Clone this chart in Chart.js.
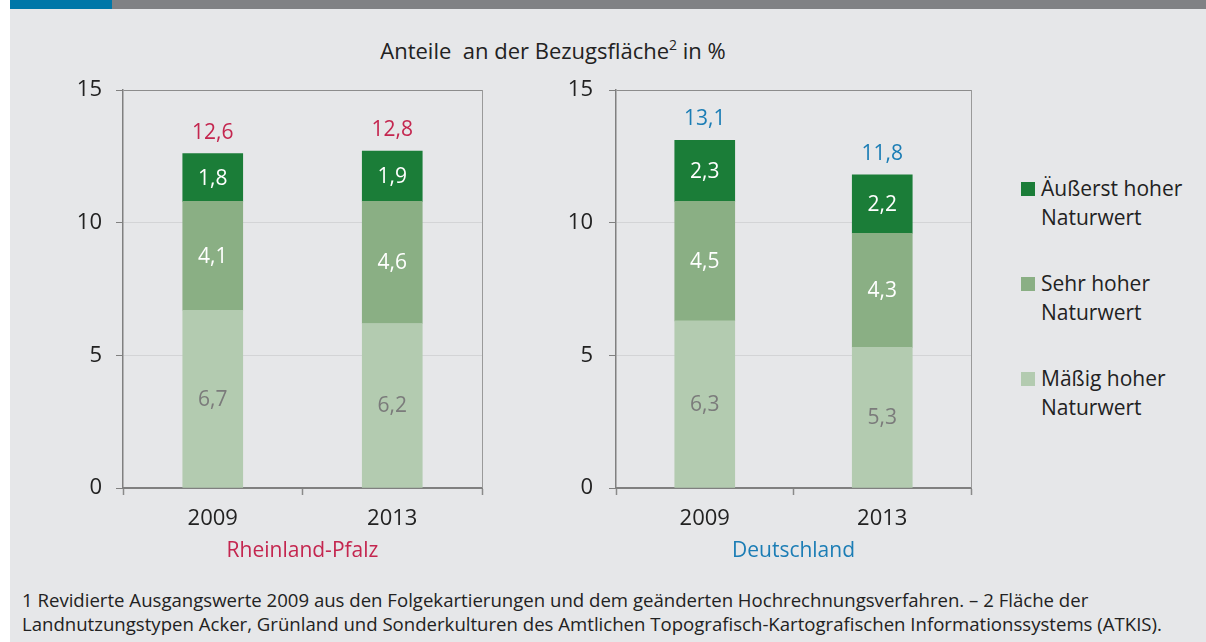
<!DOCTYPE html>
<html><head><meta charset="utf-8">
<script src="https://cdn.jsdelivr.net/npm/chart.js@4.4.1/dist/chart.umd.min.js"></script>
<style>
html,body{margin:0;padding:0;background:#fff;}
#wrap{position:relative;width:1206px;height:642px;overflow:hidden;font-family:'Open Sans',sans-serif;color:#222;}
#panel{position:absolute;left:10px;top:0;width:1196px;height:642px;background:#e6e7e9;}
#barBlue{position:absolute;left:10px;top:0;width:102px;height:9px;background:#0077a8;}
#barGray{position:absolute;left:112px;top:0;width:1094px;height:9px;background:#808184;}
#title{position:absolute;left:303px;width:500px;top:35px;text-align:center;font-size:22px;line-height:30px;white-space:pre;}
#title sup{font-size:14px;line-height:0;position:relative;top:-1px;}
canvas{position:absolute;}
#legend{position:absolute;left:1021px;top:0;}
.lg{position:absolute;left:0;width:190px;font-size:21px;line-height:28.5px;}
.lg .sw{position:absolute;left:0;top:8px;width:14px;height:14px;}
.lg .tx{position:absolute;left:20px;top:0;white-space:pre;}
#foot{position:absolute;left:22px;top:588px;font-size:18.6px;line-height:23.5px;color:#222;white-space:pre;}
</style></head>
<body><div id="wrap">
<div id="panel"></div><div id="barBlue"></div><div id="barGray"></div>
<div id="title">Anteile  an der Bezugsfläche<sup>2</sup> in %</div>
<canvas id="c1" width="480" height="504" style="left:20px;top:60px;"></canvas>
<canvas id="c2" width="470" height="504" style="left:520px;top:60px;"></canvas>
<div id="legend"></div>
<div id="foot">1 Revidierte Ausgangswerte 2009 aus den Folgekartierungen und dem geänderten Hochrechnungsverfahren. – 2 Fläche der
Landnutzungstypen Acker, Grünland und Sonderkulturen des Amtlichen Topografisch-Kartografischen Informationssystems (ATKIS).</div>
</div>
<script>
// ---- data ----
const categories = ['2009', '2013'];
const seriesNames = ['Mäßig hoher\nNaturwert', 'Sehr hoher\nNaturwert', 'Äußerst hoher\nNaturwert'];
const regionNames = ['Rheinland-Pfalz', 'Deutschland'];
const rpMaessig = [6.7, 6.2];
const rpSehr = [4.1, 4.6];
const rpAeusserst = [1.8, 1.9];
const rpTotal = [12.6, 12.8];
const deMaessig = [6.3, 5.3];
const deSehr = [4.5, 4.3];
const deAeusserst = [2.3, 2.2];
const deTotal = [13.1, 11.8];
const yTicks = [0, 5, 10, 15];

// ---- styles ----
const seriesColors = ['#b3cbb0', '#8aaf84', '#1b7d38'];
const labelColors = ['#7b7b7b', '#ffffff', '#ffffff'];
const regionColors = ['#c4264f', '#1b7db5'];
Chart.defaults.font.family = "'Open Sans', sans-serif";

const fmt = v => v.toFixed(1).replace('.', ',');

const labelsPlugin = {
  id: 'vals',
  afterDatasetsDraw(chart, args, opts) {
    const ctx = chart.ctx;
    ctx.save();
    ctx.font = "21px 'Open Sans', sans-serif";
    ctx.textAlign = 'center';
    ctx.textBaseline = 'middle';
    chart.data.datasets.forEach((ds, di) => {
      const meta = chart.getDatasetMeta(di);
      meta.data.forEach((el, i) => {
        const p = el.getProps(['x', 'y', 'base'], true);
        ctx.fillStyle = ds.labelColor;
        ctx.fillText(fmt(ds.data[i]), p.x, (p.y + p.base) / 2 + 1);
      });
    });
    const last = chart.getDatasetMeta(chart.data.datasets.length - 1);
    last.data.forEach((el, i) => {
      const p = el.getProps(['x', 'y'], true);
      ctx.fillStyle = opts.color;
      ctx.fillText(fmt(opts.totals[i]), p.x, p.y - 21);
    });
    ctx.restore();
  }
};
const framePlugin = {
  id: 'frame',
  beforeDatasetsDraw(chart) {
    const {ctx, chartArea: a} = chart;
    ctx.save();
    ctx.strokeStyle = '#9a9a9a';
    ctx.lineWidth = 1;
    ctx.beginPath();
    ctx.moveTo(a.right + 0.5, a.top);
    ctx.lineTo(a.right + 0.5, a.bottom);
    ctx.stroke();
    ctx.restore();
  }
};

function makeChart(id, series, totals, ri, axisWidth, padRight, yPad) {
  return new Chart(document.getElementById(id), {
    type: 'bar',
    data: {
      labels: categories,
      datasets: series.map((d, i) => ({
        label: seriesNames[i].replace('\n', ' '),
        data: d,
        backgroundColor: seriesColors[i],
        labelColor: labelColors[i],
        borderWidth: 0,
        barThickness: 60
      }))
    },
    options: {
      responsive: false,
      animation: false,
      devicePixelRatio: 1,
      layout: {padding: {top: 30, right: padRight, left: 0, bottom: 0}},
      plugins: {
        legend: {display: false},
        tooltip: {enabled: false},
        vals: {totals: totals, color: regionColors[ri]}
      },
      scales: {
        x: {
          stacked: true,
          grid: {offset: true, drawOnChartArea: false, tickLength: 7, tickColor: '#8a8a8a', tickWidth: 1.5},
          border: {color: '#808080', width: 2},
          ticks: {font: {size: 22}, color: '#222', padding: 11},
          title: {display: true, text: regionNames[ri], color: regionColors[ri], font: {size: 21}, padding: {top: 0, bottom: 0}},
          afterFit: s => { s.height = 76; }
        },
        y: {
          stacked: true,
          min: 0, max: 15,
          afterBuildTicks: s => { s.ticks = yTicks.map(v => ({value: v})); },
          grid: {
            color: c => c.tick && c.tick.value === 15 ? '#8c8c8c' : (c.tick && c.tick.value === 0 ? 'rgba(0,0,0,0)' : '#d3d4d6'),
            tickLength: 7, tickColor: '#808080', lineWidth: 1
          },
          border: {color: '#808080', width: 1.5},
          ticks: {font: {size: 22}, color: '#222', padding: yPad},
          afterFit: s => { s.width = axisWidth; }
        }
      }
    },
    plugins: [framePlugin, labelsPlugin]
  });
}

makeChart('c1', [rpMaessig, rpSehr, rpAeusserst], rpTotal, 0, 103, 18, 14);
makeChart('c2', [deMaessig, deSehr, deAeusserst], deTotal, 1, 96, 19, 16);

// legend (top entry = last series)
const legendTops = [174, 269, 364];
const lg = document.getElementById('legend');
[2, 1, 0].forEach((si, k) => {
  const d = document.createElement('div');
  d.className = 'lg';
  d.style.top = legendTops[k] + 'px';
  d.innerHTML = '<div class="sw" style="background:' + seriesColors[si] + '"></div><div class="tx"></div>';
  d.querySelector('.tx').textContent = seriesNames[si];
  lg.appendChild(d);
});
</script>
</body></html>
